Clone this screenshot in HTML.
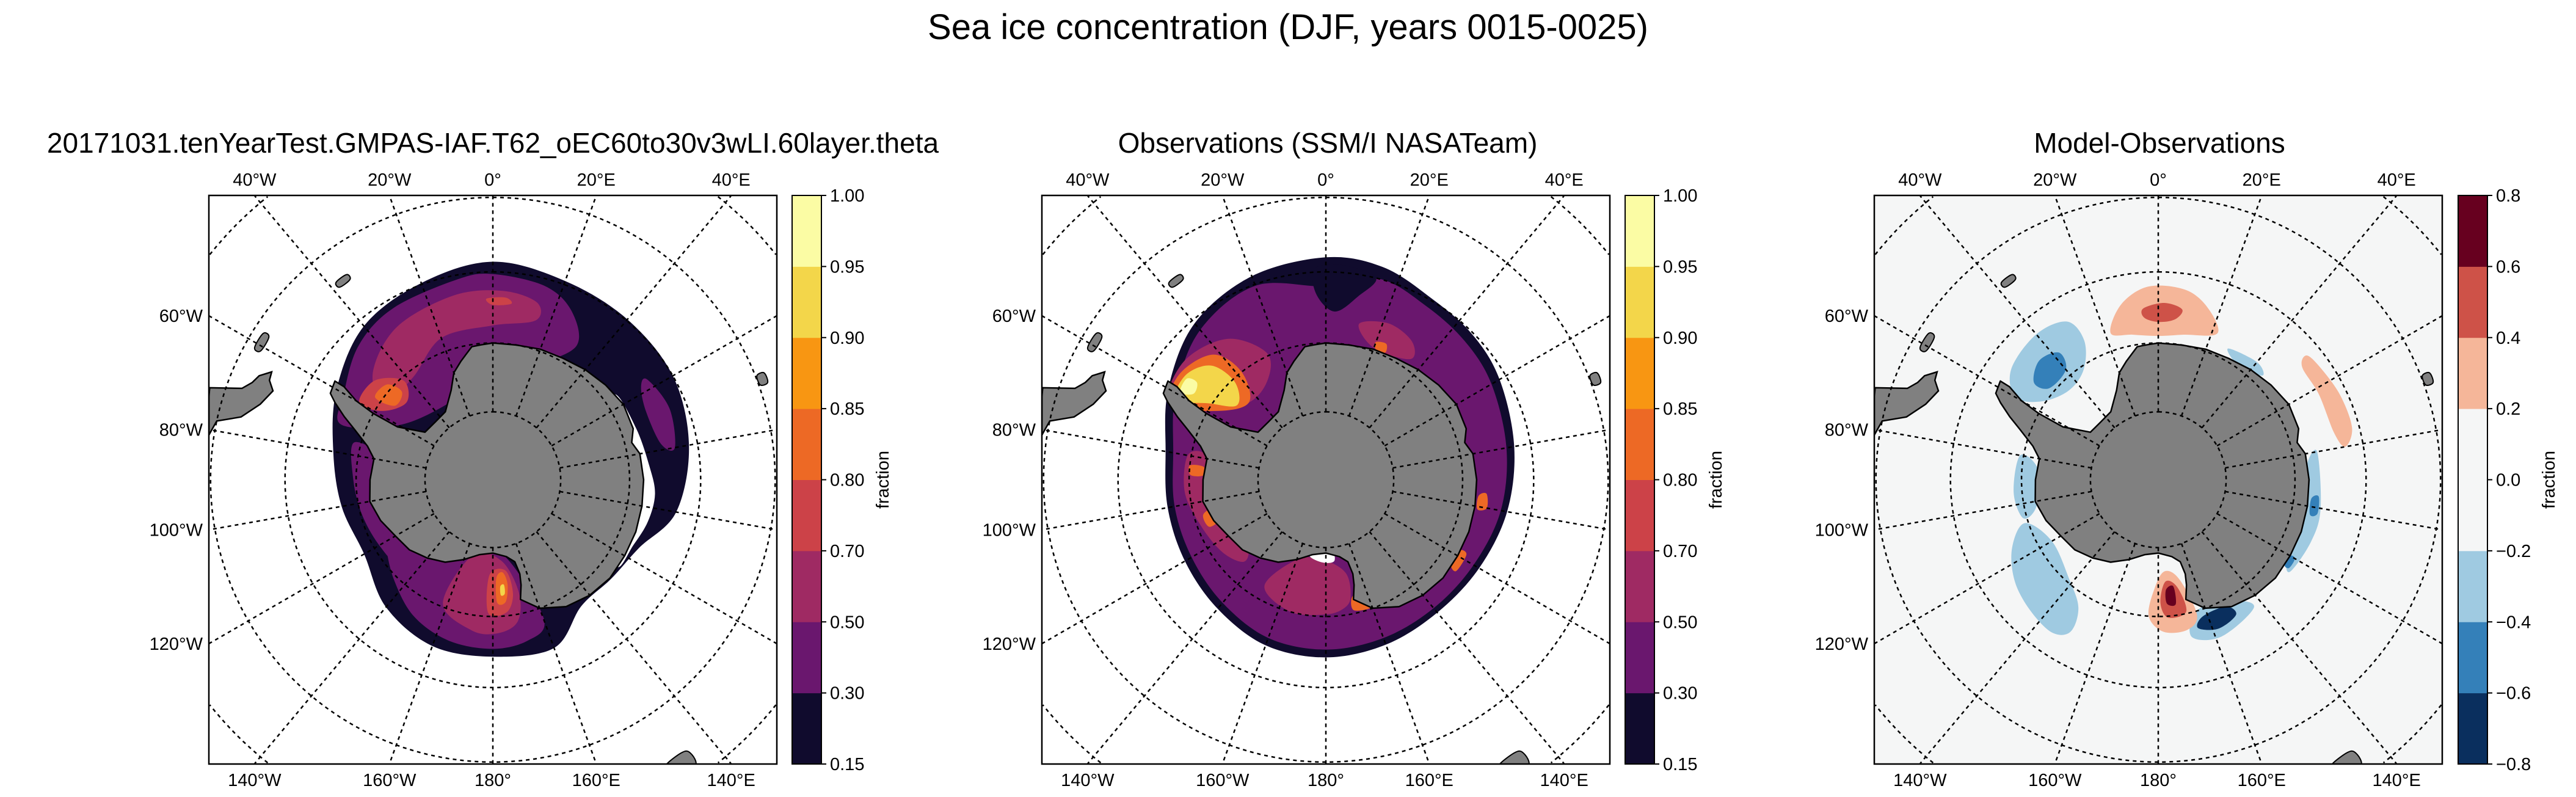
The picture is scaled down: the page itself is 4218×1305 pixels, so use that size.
<!DOCTYPE html>
<html><head><meta charset="utf-8">
<style>
html,body{margin:0;padding:0;background:#fff;width:4218px;height:1305px;overflow:hidden;}
svg{display:block;font-family:"Liberation Sans","DejaVu Sans",sans-serif;}
</style></head>
<body>
<svg id="fig" width="4218" height="1305" viewBox="0 0 4218 1305" xmlns="http://www.w3.org/2000/svg">
<rect x="0" y="0" width="4218" height="1305" fill="#fff"/>
<text x="2109" y="64" font-size="58" text-anchor="middle" fill="#000">Sea ice concentration (DJF, years 0015-0025)</text>
<text x="807" y="250" font-size="46" text-anchor="middle" fill="#000">20171031.tenYearTest.GMPAS-IAF.T62_oEC60to30v3wLI.60layer.theta</text>
<text x="2174" y="250" font-size="46" text-anchor="middle" fill="#000">Observations (SSM/I NASATeam)</text>
<text x="3536" y="250" font-size="46" text-anchor="middle" fill="#000">Model-Observations</text>
<g id="panels"></g>
</svg>
<script>
// ---------- data ----------
const lonTicksTop = [-40,-20,0,20,40];
const lonTickTopLabels = ["40°W","20°W","0°","20°E","40°E"];
const lonTicksLeft = [-60,-80,-100,-120];
const lonTickLeftLabels = ["60°W","80°W","100°W","120°W"];
const lonTicksBottom = [-140,-160,180,160,140];
const lonTickBottomLabels = ["140°W","160°W","180°","160°E","140°E"];
const latCircles = [-80,-70,-60,-50,-40];

const iceLevels = ["0.15","0.30","0.50","0.70","0.80","0.85","0.90","0.95","1.00"];
const iceColors = ["#100b2d","#6a176e","#9f2a63","#cc4248","#ed6925","#f89612","#f3d64a","#fbfca4"];
const diffLevels = ["−0.8","−0.6","−0.4","−0.2","0.0","0.2","0.4","0.6","0.8"];
const diffColors = ["#0a2f5e","#3480b9","#9fcae1","#f5f6f6","#f5f6f6","#f5b699","#ce5248","#67001f"];

const antarctica = [[0,-70],[10,-70],[20,-69.7],[30,-69.5],[40,-69],[50,-68.5],[60,-68],[70,-68.2],[75,-69],[80,-68.2],[90,-68],[100,-67.9],[110,-67.8],[120,-67.8],[130,-67.7],[140,-68],[150,-68.6],[160,-70],[167,-72],[165,-74],[164,-75.6],[165,-77.5],[170,-78.5],[180,-79.2],[-170,-78.8],[-160,-77.5],[-150,-76],[-140,-75],[-130,-74],[-120,-73.5],[-110,-72.5],[-100,-71.7],[-90,-72],[-80,-72.3],[-75,-71],[-70,-68.5],[-67,-66.5],[-64,-64.5],[-62,-63.3],[-58,-63],[-58,-64.5],[-60,-67],[-61,-70],[-61,-74],[-55,-77.8],[-45,-78],[-35,-77.8],[-25,-75.5],[-20,-73.3],[-15,-72],[-9,-70.3],[-5,-70.2]];
const southAmerica = [[-66,-55],[-64,-54.8],[-66,-53.5],[-68,-53],[-70,-52],[-72,-48],[-75,-45],[-82,-45],[-78,-50],[-76,-53],[-72,-55],[-68,-56]];
const islands = [
  [[-61,-51.3],[-57.5,-51.3],[-57.5,-52.2],[-61,-52.2]],
  [[-38.5,-54],[-35.5,-54],[-35.5,-54.8],[-38.5,-54.8]],
  [[68.5,-48.8],[70.5,-48.8],[70.5,-49.8],[68.5,-49.8]],
  [[144.5,-41.5],[148.5,-41.5],[148.5,-43.5],[144.5,-43.5]]
];

// model ice regions (lon,lat)
const modelDark = [[0,-58.6],[20,-59.5],[40,-59.8],[60,-60],[80,-61.2],[100,-63],[115,-66.5],[130,-67.5],[145,-67.5],[160,-64],[180,-64.3],[-160,-64.3],[-140,-65.8],[-120,-68.3],[-100,-67.6],[-80,-66.4],[-60,-63.8],[-40,-61],[-20,-59.8]];
const modelPurpleW = [[-70,-66.5],[-60,-65],[-45,-62.5],[-30,-61.3],[-10,-60.6],[0,-60.3],[15,-61],[25,-63],[32,-67],[20,-72],[0,-74],[-30,-77],[-60,-74]];
const modelPurpleWest = [[-75,-69],[-90,-69.6],[-105,-70.2],[-120,-70.8],[-132,-71.5],[-128,-75],[-100,-74],[-80,-74]];
const modelPurpleR = [[-150,-67],[-165,-65.7],[180,-65.4],[168,-66],[160,-68],[165,-76],[180,-80],[-150,-80],[-125,-76],[-110,-73],[-120,-71.8],[-135,-69.5]];
const modelPurpleE = [[57,-63.3],[68,-62.4],[80,-63.2],[78,-65],[66,-65.6],[58,-64.6]];
const modelMagW = [[-48,-66.5],[-32,-63.8],[-12,-62.7],[3,-62.6],[14,-63.5],[15,-66],[0,-67.5],[-20,-68],[-38,-71],[-55,-70.5]];
const modelMagR = [[-158,-70.5],[-172,-67.8],[178,-67.6],[170,-69],[167,-73],[174,-78],[-165,-78.5]];
const modelRedW = [[-60,-67.5],[-50,-67.5],[-42,-70.5],[-48,-73],[-58,-71]];
const modelRed2 = [[-2,-63.7],[4,-63.5],[6,-64.3],[0,-64.6]];
const modelRedR = [[-178,-70.5],[174,-70.5],[170,-73],[172,-76.5],[-178,-76]];
const modelOrW = [[-55,-69],[-48,-69.2],[-46,-71.5],[-53,-72]];
const modelOrR = [[178,-72],[174,-72],[172,-74.5],[174,-76.3],[178,-75.5]];
const modelYelR = [[176,-73],[174,-73.2],[174,-74.5],[176,-74.3]];
const modelWater = [[55,-68.3],[70,-67.8],[85,-67.1],[95,-66.3],[105,-66.6],[115,-67.4],[125,-67.9],[110,-72],[70,-72]];

// observation ice regions
const obsDark = [[0,-58],[15,-58.3],[30,-59.7],[45,-60.2],[60,-61],[80,-62.3],[100,-63.3],[120,-64.3],[140,-64.8],[160,-64.5],[180,-64.2],[-160,-64.4],[-140,-65.5],[-120,-66.3],[-100,-66.6],[-80,-66.3],[-60,-63.6],[-40,-60.5],[-20,-58.8]];
const obsPurple = [[0,-62],[15,-60],[30,-61],[45,-61.6],[60,-62.3],[80,-63.4],[100,-64.2],[120,-65.2],[140,-65.6],[160,-65.5],[180,-65.3],[-160,-65.5],[-140,-66.6],[-120,-67.4],[-100,-67.6],[-80,-67.4],[-60,-64.8],[-40,-61.7],[-20,-60.2]];
const obsDarkTongue = [[-3,-59.5],[5,-59],[14,-60],[10,-63],[3,-65.5],[-3,-63]];
const obsMagW = [[-64,-64.5],[-50,-63.2],[-35,-65],[-25,-69.5],[-30,-73],[-45,-74],[-60,-70]];
const obsMagE = [[12,-66.8],[22,-65.5],[32,-66.3],[35,-68.5],[20,-69.5]];
const obsMagR = [[-150,-72],[-165,-70],[-180,-70.3],[172,-71],[168,-72.5],[168,-76],[-178,-78.2],[-160,-77.5]];
const obsMagWest = [[-80,-69.5],[-95,-69.3],[-110,-70.5],[-125,-71.5],[-135,-73],[-130,-75],[-110,-75],[-90,-74],[-78,-72]];
const obsOrW = [[-64,-65],[-54,-63.8],[-42,-65.5],[-38,-70],[-45,-74],[-58,-71]];
const obsYelW = [[-62,-65.2],[-53,-64.6],[-45,-66.5],[-43,-70.5],[-50,-73],[-57,-69.5]];
const obsPaleW = [[-59,-65.3],[-54,-65],[-53,-66.5],[-57,-67]];
const obsOrSpots = [
  [[-88,-70.2],[-84,-70],[-84,-72],[-88,-72]],
  [[-112,-71.6],[-106,-71.3],[-104,-73.2],[-110,-73.6]],
  [[160,-70.2],[168,-70.5],[167,-72.5],[160,-72]],
  [[95,-66.5],[100,-66.2],[101,-67.5],[96,-67.6]],
  [[118,-66.8],[125,-66.8],[124,-68],[118,-68]],
  [[20,-68.6],[24,-68.3],[25,-69.5],[21,-69.6]]
];
const obsWaterR = [[-168,-78.5],[-178,-77.8],[174,-78],[176,-80],[-168,-80]];

// difference regions
const diffSalmon = [
  [[-18,-67.5],[-12,-64],[-3,-62],[8,-62.2],[16,-64],[22,-67],[10,-68.5],[0,-69],[-10,-68.5]],
  [[50,-62],[55,-61.5],[65,-61],[75,-61],[80,-62.5],[75,-63.6],[62,-63.6],[52,-63.5]],
  [[164,-69.5],[169,-67.7],[178,-67.8],[-176,-70],[-178,-74],[176,-76.5],[168,-75]]
];
const diffRed = [
  [[-5,-65],[2,-64.3],[8,-65],[6,-66.5],[0,-67],[-5,-66.3]],
  [[168,-70.3],[176,-69.8],[179,-72],[176,-75],[170,-74]]
];
const diffDarkRed = [[[172,-71.6],[176,-71.8],[176,-73.8],[172,-74.2]]];
const diffLightBlue = [
  [[-60,-66],[-53,-63.3],[-40,-62.5],[-30,-63.5],[-28,-67],[-34,-70.5],[-45,-71.5],[-56,-69.5]],
  [[-108,-69.5],[-115,-66.5],[-125,-64.5],[-135,-63.5],[-145,-63],[-150,-64.5],[-148,-68],[-138,-70.5],[-120,-72]],
  [[-80,-69.5],[-95,-68.8],[-106,-69.5],[-102,-71.8],[-85,-72.3]],
  [[143,-66.8],[158,-65.4],[168,-66.6],[164,-70],[150,-69.6]],
  [[80,-66.5],[100,-66],[112,-66],[125,-66.6],[120,-68.2],[100,-68.2],[85,-68.3]],
  [[28,-68.3],[40,-67.6],[45,-68.5],[35,-69.6]]
];
const diffBlue = [
  [[-52,-67],[-45,-65.5],[-38,-66.5],[-40,-69],[-50,-69.2]],
  [[96,-66.5],[102,-66.3],[103,-67.3],[97,-67.5]],
  [[120,-67],[124,-67],[124,-67.8],[120,-67.8]]
];
const diffNavy = [[[150,-67.3],[158,-66.6],[165,-67.6],[162,-69],[152,-69]]];

// ---------- drawing ----------
const NS = "http://www.w3.org/2000/svg";
const K = 1270, HALF = 465, TOP = 320, BOT = 1251;
const panelsG = document.getElementById('panels');
function mk(tag, attrs, parent){ const e = document.createElementNS(NS, tag); for (const k in attrs) e.setAttribute(k, attrs[k]); if (parent) parent.appendChild(e); return e; }
function proj(cx, cy, lon, lat){
  const r = K*Math.tan((90+lat)/2*Math.PI/180), a = lon*Math.PI/180;
  return [cx + r*Math.sin(a), cy - r*Math.cos(a)];
}
function smoothPath(pts){
  const n = pts.length; let d = "M" + pts[0][0].toFixed(1) + "," + pts[0][1].toFixed(1);
  for (let i=0;i<n;i++){
    const p0=pts[(i-1+n)%n], p1=pts[i], p2=pts[(i+1)%n], p3=pts[(i+2)%n];
    const c1=[p1[0]+(p2[0]-p0[0])/6, p1[1]+(p2[1]-p0[1])/6];
    const c2=[p2[0]-(p3[0]-p1[0])/6, p2[1]-(p3[1]-p1[1])/6];
    d += "C"+c1[0].toFixed(1)+","+c1[1].toFixed(1)+" "+c2[0].toFixed(1)+","+c2[1].toFixed(1)+" "+p2[0].toFixed(1)+","+p2[1].toFixed(1);
  }
  return d+"Z";
}
function polyPath(pts){ return "M"+pts.map(p=>p[0].toFixed(1)+","+p[1].toFixed(1)).join("L")+"Z"; }

function drawPanel(id, cx, bg, regions, cbx, levels, colors){
  const g = mk('g', {}, panelsG);
  
  
  const clip = mk('clipPath', {id: id+'-clip'}, g);
  mk('rect', {x: cx-HALF, y: TOP, width: 2*HALF, height: BOT-TOP}, clip);
  const inner = mk('g', {'clip-path': 'url(#'+id+'-clip)'}, g);
  const bgr = mk('rect', {x: cx-HALF, y: TOP, width: 2*HALF, height: BOT-TOP, fill: bg}, inner);
  
  
  const cy = (TOP+BOT)/2;
  const inside = p => p[0]>=cx-HALF && p[0]<=cx+HALF && p[1]>=TOP && p[1]<=BOT;
  regions.forEach(rg => {
    rg.shapes.forEach(sh => {
      const p = mk('path', {d: smoothPath(sh.map(q => proj(cx, cy, q[0], q[1]))), fill: rg.color}, inner);
      
      
    });
  });
  const land = mk('path', {d: polyPath(antarctica.map(q=>proj(cx,cy,q[0],q[1]))), fill:'#808080', stroke:'#000', 'stroke-width':2.5, 'stroke-linejoin':'round'}, inner);
  
  
  // south america clipped to frame
  const saPts = southAmerica.map(q=>proj(cx,cy,q[0],q[1])).map(p=>[Math.max(p[0],cx-HALF),Math.min(Math.max(p[1],TOP),BOT)]);
  const sa = mk('path', {d: polyPath(saPts), fill:'#808080', stroke:'#000', 'stroke-width':2.5}, inner);
  
  
  islands.forEach(isl => {
    const ip = mk('path', {d: smoothPath(isl.map(q=>proj(cx,cy,q[0],q[1])).map(p=>[p[0],Math.min(p[1],BOT)])), fill:'#808080', stroke:'#000', 'stroke-width':2}, inner);
    
    
  });
  // latitude circles, only segments inside frame
  latCircles.forEach(lat => {
    let d = "", pen = false;
    for (let i=0;i<=720;i++){
      const p = proj(cx, cy, i/2, lat);
      if (inside(p)) { d += (pen?"L":"M") + p[0].toFixed(1)+","+p[1].toFixed(1); pen = true; }
      else pen = false;
    }
    const c = mk('path', {d: d, fill: 'none', stroke: '#000', 'stroke-width': 2.5, 'stroke-dasharray': '6,6'}, inner);
    
    
  });
  for (let lon=-180; lon<180; lon+=20){
    const a = proj(cx, cy, lon, -80);
    const s = Math.sin(lon*Math.PI/180), c = Math.cos(lon*Math.PI/180);
    const t = Math.min(Math.abs(s)>1e-9?HALF/Math.abs(s):1e9, Math.abs(c)>1e-9?HALF/Math.abs(c):1e9) - 0.5;
    const l = mk('line', {x1:a[0], y1:a[1], x2:cx+t*s, y2:cy-t*c, stroke:'#000', 'stroke-width':2.5, 'stroke-dasharray':'6,6'}, inner);
    
    
  }
  const frame = mk('rect', {x: cx-HALF, y: TOP, width: 2*HALF, height: BOT-TOP, fill:'none', stroke:'#000', 'stroke-width':2.5}, g);
  
  
  lonTicksTop.forEach((lon,i) => {
    const x = cx + HALF*Math.tan(lon*Math.PI/180);
    const t = mk('text', {x: x, y: TOP-16, 'font-size': 29, 'text-anchor': 'middle'}, g);
    t.textContent = lonTickTopLabels[i];
    
    
  });
  lonTicksLeft.forEach((lon,i) => {
    const y = cy - HALF/Math.tan(-lon*Math.PI/180);
    const t = mk('text', {x: cx-HALF-10, y: y+10, 'font-size': 29, 'text-anchor': 'end'}, g);
    t.textContent = lonTickLeftLabels[i];
    
    
  });
  lonTicksBottom.forEach((lon,i) => {
    const x = cx - HALF*Math.tan(lon*Math.PI/180);
    const t = mk('text', {x: x, y: BOT+36, 'font-size': 29, 'text-anchor': 'middle'}, g);
    t.textContent = lonTickBottomLabels[i];
    
    
  });
  const cb = mk('g', {}, panelsG);
  
  
  const nb = colors.length, h = (BOT-TOP)/nb;
  colors.forEach((c,i) => {
    const r = mk('rect', {x: cbx, y: BOT-(i+1)*h, width: 48, height: h+0.5, fill: c}, cb);
    
    
  });
  mk('rect', {x: cbx, y: TOP, width: 48, height: BOT-TOP, fill:'none', stroke:'#000', 'stroke-width':2}, cb);
  levels.forEach((lv,i) => {
    const y = BOT - i*h;
    mk('line', {x1: cbx+48, y1: y, x2: cbx+56, y2: y, stroke:'#000', 'stroke-width':2}, cb);
    const t = mk('text', {x: cbx+62, y: y+10, 'font-size': 29}, cb);
    t.textContent = lv;
    
    
  });
  const ft = mk('text', {x: 0, y: 0, 'font-size': 29, 'text-anchor': 'middle', transform: 'translate('+(cbx+158)+','+cy+') rotate(-90)'}, cb);
  ft.textContent = 'fraction';
  
  
}

drawPanel('model', 807, '#ffffff', [
  {name:'ice-0.15', color: iceColors[0], shapes:[modelDark]},
  {name:'ice-0.30', color: iceColors[1], shapes:[modelPurpleW, modelPurpleWest, modelPurpleR, modelPurpleE]},
  {name:'ice-0.50', color: iceColors[2], shapes:[modelMagW, modelMagR]},
  {name:'ice-0.70', color: iceColors[3], shapes:[modelRedW, modelRed2, modelRedR]},
  {name:'ice-0.80', color: iceColors[4], shapes:[modelOrW, modelOrR]},
  {name:'ice-0.90', color: iceColors[6], shapes:[modelYelR]},
  {name:'open-water', color: '#ffffff', shapes:[modelWater]}
], 1297, iceLevels, iceColors);

drawPanel('obs', 2171, '#ffffff', [
  {name:'ice-0.15', color: iceColors[0], shapes:[obsDark]},
  {name:'ice-0.30', color: iceColors[1], shapes:[obsPurple]},
  {name:'ice-0.15-tongue', color: iceColors[0], shapes:[obsDarkTongue]},
  {name:'ice-0.50', color: iceColors[2], shapes:[obsMagW, obsMagE, obsMagR, obsMagWest]},
  {name:'ice-0.80', color: iceColors[4], shapes:[obsOrW].concat(obsOrSpots)},
  {name:'ice-0.90', color: iceColors[6], shapes:[obsYelW]},
  {name:'ice-0.95', color: iceColors[7], shapes:[obsPaleW]},
  {name:'open-water', color: '#ffffff', shapes:[obsWaterR]}
], 2661, iceLevels, iceColors);

drawPanel('diff', 3534, '#f5f6f6', [
  {name:'diff-minus-0.2', color: diffColors[2], shapes: diffLightBlue},
  {name:'diff-minus-0.4', color: diffColors[1], shapes: diffBlue},
  {name:'diff-minus-0.6', color: diffColors[0], shapes: diffNavy},
  {name:'diff-plus-0.2', color: diffColors[5], shapes: diffSalmon},
  {name:'diff-plus-0.4', color: diffColors[6], shapes: diffRed},
  {name:'diff-plus-0.6', color: diffColors[7], shapes: diffDarkRed}
], 4025, diffLevels, diffColors);
</script>
</body></html>
